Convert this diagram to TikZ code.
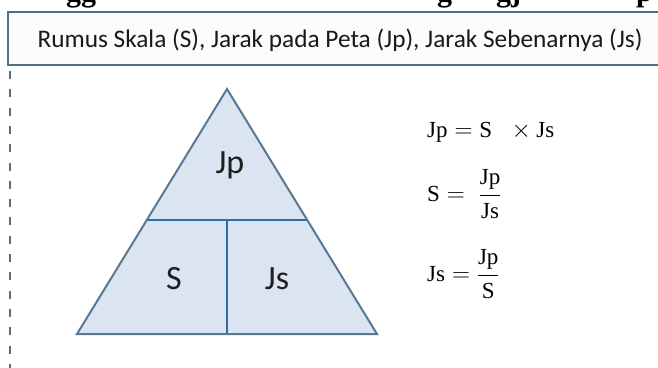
\documentclass[tikz,border=0pt]{standalone}
\usepackage{fontspec}
\usetikzlibrary{calc}
\setmainfont{Carlito}
\newfontfamily\formfont{Liberation Serif}
\newfontfamily\headfont{Liberation Serif}
\definecolor{frameline}{RGB}{76,112,132}
\definecolor{framefill}{RGB}{250,252,254}
\definecolor{dashgray}{RGB}{96,108,112}
\definecolor{trifill}{RGB}{219,229,241}
\definecolor{triedge}{RGB}{88,120,148}
\definecolor{triinner}{RGB}{46,110,160}
\tikzset{
  celltext/.style={font=\fontsize{34}{38}\selectfont, inner sep=0pt, text=black!88},
  formula/.style={font=\fontsize{23}{27}\selectfont\formfont, anchor=west, inner sep=0pt},
  headfrag/.style={font=\fontsize{30}{34}\selectfont\headfont\bfseries, anchor=base west, inner sep=0pt},
}
\newcommand\fracbox[2]{\displaystyle\frac{\hbox{#1}}{\hbox{#2}}}
\begin{document}
\begin{tikzpicture}[x=1pt,y=-1pt]
  \useasboundingbox (0,0) rectangle (658,367);
  \fill[white] (0,0) rectangle (658,367);

  % heading line above, mostly outside the page
  \node[headfrag] (h1) at (66,1.5) {gg};
  \node[headfrag] (h2) at (437,1.5) {g};
  \node[headfrag] (h3) at (496,1.5) {gj};
  \node[headfrag] (h4) at (636,1.5) {p};

  % title bar
  \draw[frameline, line width=2.5pt, fill=framefill] (8,12) rectangle (668,65);
  \node[font=\fontsize{25.3}{29}\selectfont, text=black!90, inner sep=0pt] (title) at (340,40)
    {Rumus Skala (S), Jarak pada Peta (Jp), Jarak Sebenarnya (Js)};

  % dashed margin line
  \coordinate (d1) at (10,71);
  \coordinate (d2) at (10,370);
  \draw[dashgray, line width=2.5pt, dash pattern=on 8pt off 10.3pt] (d1) -- (d2);

  % triangle
  \coordinate (apex) at (227,89);
  \coordinate (bl) at (77,334);
  \coordinate (br) at (377,334);
  \coordinate (ml) at ($(apex)!0.5347!(bl)$);
  \coordinate (mr) at ($(apex)!0.5347!(br)$);
  \coordinate (mm) at ($(ml)!0.5!(mr)$);
  \coordinate (mb) at ($(bl)!0.5!(br)$);
  \fill[trifill] (apex) -- (bl) -- (br) -- cycle;
  \draw[triinner, line width=1.8pt] (ml) -- (mr);
  \draw[triinner, line width=1.8pt] (mm) -- (mb);
  \draw[triedge, line width=2pt, line join=miter] (apex) -- (bl) -- (br) -- cycle;

  \node[celltext] (jp) at (230,165) {Jp};
  \node[celltext] (s) at (174,279) {S};
  \node[celltext] (js) at (277,279) {Js};

  % formulas
  \node[formula] (f1) at (427,132) {$\hbox{Jp} = \hbox{S}\;\;\times\hbox{Js}$};
  \node[formula] (f2) at (427,194) {$\hbox{S} = \;\fracbox{Jp}{Js}$};
  \node[formula] (f3) at (427,274) {$\hbox{Js} = \fracbox{Jp}{S}$};
\end{tikzpicture}
\end{document}
